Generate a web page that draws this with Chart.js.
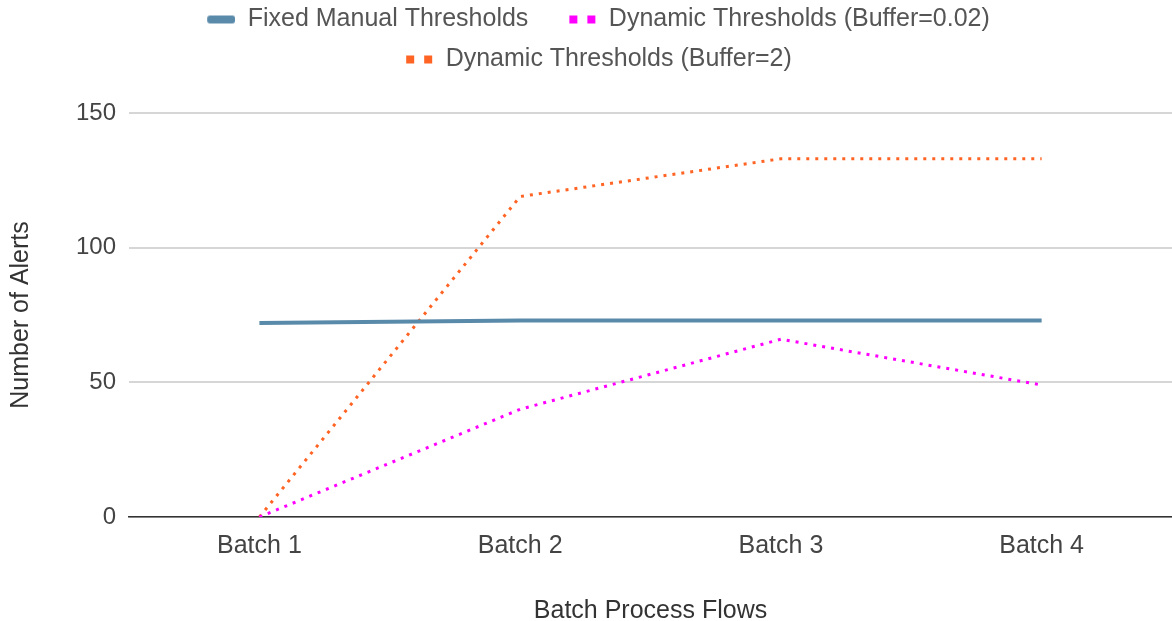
<!DOCTYPE html>
<html>
<head>
<meta charset="utf-8">
<script src="https://cdn.jsdelivr.net/npm/chart.js@4.4.1/dist/chart.umd.min.js"></script>
<style>
  html, body { margin: 0; padding: 0; background: #fff; }
  #wrap { width: 1172px; height: 621px; }
</style>
</head>
<body>
<div id="wrap"><canvas id="alertsChart"></canvas></div>
<script>
// data
const categories = ['Batch 1', 'Batch 2', 'Batch 3', 'Batch 4'];
const fixedManual = [72, 73, 73, 73];
const dynamicSmallBuffer = [0, 40, 66, 49];
const dynamicLargeBuffer = [0, 119, 133, 133];
const yTickValues = [0, 50, 100, 150];

const BLUE = '#5a8aa9';
const PINK = '#ff00ff';
const ORANGE = '#ff6424';
const TEXT = '#444';

Chart.defaults.font.family = "'Liberation Sans', Arial, sans-serif";
Chart.defaults.font.size = 24;
Chart.defaults.color = TEXT;

/* ── legend markers (solid bar / two dots) ─────────────── */
const MARK_W = 53;
function makeMarker(color, dotted) {
    const c = document.createElement('canvas');
    c.width = MARK_W;
    c.height = 12;
    const g = c.getContext('2d');
    g.fillStyle = color;
    if (dotted) {
        g.fillRect(26, 2, 8, 8);
        g.fillRect(44, 2, 8, 8);
    } else {
        g.beginPath();
        g.roundRect(25, 2, 28, 8, 3);
        g.fill();
    }
    return c;
}
const markers = [makeMarker(BLUE, false), makeMarker(PINK, true), makeMarker(ORANGE, true)];

// give the legend some extra room under it
const legendSpacer = {
    id: 'legendSpacer',
    beforeInit(chart) {
        const fit = chart.legend.fit;
        chart.legend.fit = function () {
            fit.call(this);
            this.height += 31;
        };
    }
};

new Chart(document.getElementById('alertsChart'), {
    type: 'line',
    data: {
        labels: categories,
        datasets: [{
            label: 'Fixed Manual Thresholds',
            data: fixedManual,
            borderColor: BLUE,
            backgroundColor: BLUE,
            borderWidth: 4,
            pointRadius: 0,
            tension: 0,
        }, {
            label: 'Dynamic Thresholds (Buffer=0.02)',
            data: dynamicSmallBuffer,
            borderColor: PINK,
            backgroundColor: PINK,
            borderWidth: 3,
            borderDash: [3, 6],
            pointRadius: 0,
            tension: 0,
        }, {
            label: 'Dynamic Thresholds (Buffer=2)',
            data: dynamicLargeBuffer,
            borderColor: ORANGE,
            backgroundColor: ORANGE,
            borderWidth: 3,
            borderDash: [3, 6],
            pointRadius: 0,
            tension: 0,
        }]
    },
    options: {
        responsive: true,
        maintainAspectRatio: false,
        animation: false,
        layout: { padding: { top: -8, bottom: -5, left: 0, right: 0 } },
        plugins: {
            tooltip: { enabled: false },
            legend: {
                display: true,
                position: 'top',
                labels: {
                    color: '#555',
                    font: { size: 25 },
                    padding: 15,
                    usePointStyle: true,
                    pointStyleWidth: MARK_W,
                    generateLabels(chart) {
                        const items = Chart.defaults.plugins.legend.labels.generateLabels(chart);
                        return items.map((it, i) => Object.assign(it, { pointStyle: markers[i] }));
                    }
                }
            }
        },
        scales: {
            x: {
                offset: true,
                grid: { display: false, drawTicks: false },
                border: { display: true, color: '#333', width: 1.5 },
                ticks: { padding: 14, color: TEXT, font: { size: 25 } },
                title: {
                    display: true,
                    text: 'Batch Process Flows',
                    color: '#333',
                    font: { size: 25 },
                    padding: { top: 21, bottom: 0 }
                }
            },
            y: {
                min: 0,
                max: 150,
                afterBuildTicks(scale) {
                    scale.ticks = yTickValues.map(v => ({ value: v }));
                },
                grid: { color: '#d6d6d6', lineWidth: 2, drawTicks: false },
                border: { display: false },
                ticks: { padding: 13, color: TEXT },
                title: {
                    display: true,
                    text: 'Number of Alerts',
                    color: '#333',
                    font: { size: 25 },
                    padding: { top: 6, bottom: 27 }
                }
            }
        }
    },
    plugins: [legendSpacer]
});
</script>
</body>
</html>
